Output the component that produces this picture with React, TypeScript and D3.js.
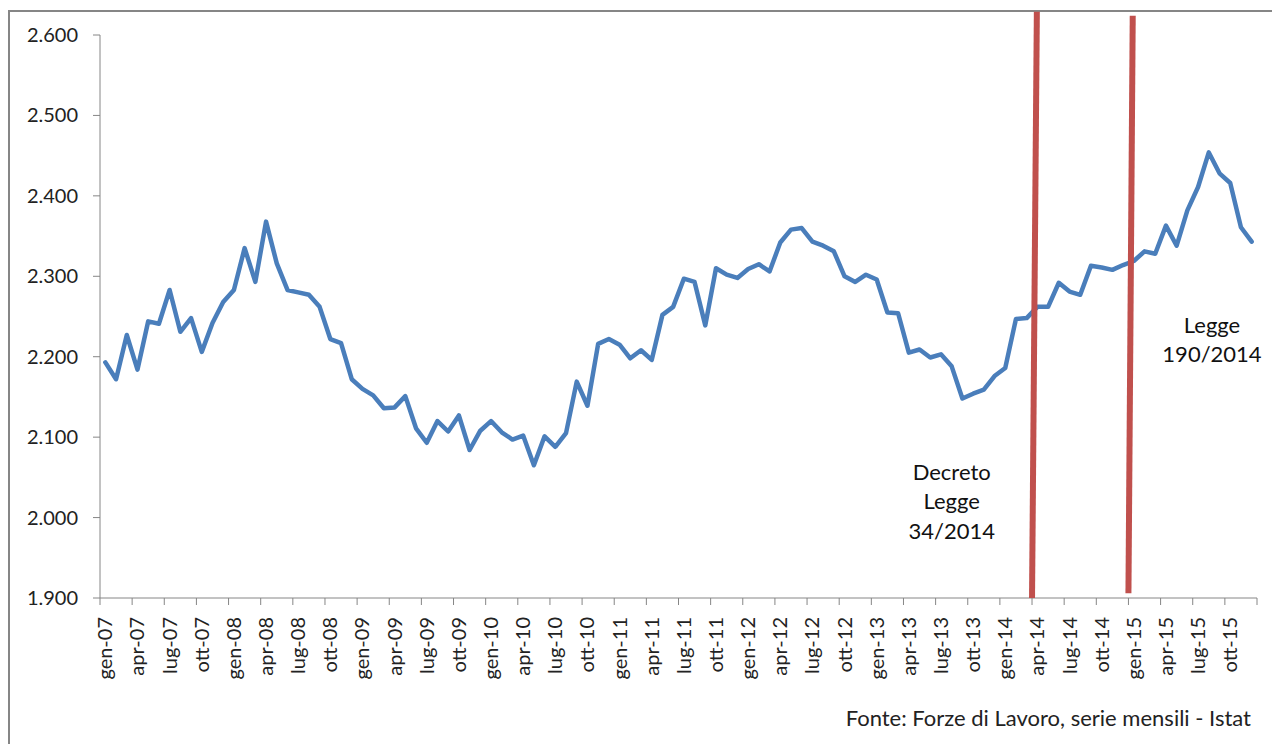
import React from 'react';
import * as d3 from 'd3';

// ── Data ──────────────────────────────────────────────────────────────────────
const MONTHS = ['gen', 'feb', 'mar', 'apr', 'mag', 'giu', 'lug', 'ago', 'set', 'ott', 'nov', 'dic'];
const YEARS = ['07', '08', '09', '10', '11', '12', '13', '14', '15'];
const CATEGORIES = YEARS.flatMap((y) => MONTHS.map((m) => `${m}-${y}`));

// migliaia, mensili gen-07 … dic-15
const VALUES = [
  2193, 2172, 2227, 2184, 2244, 2241, 2283, 2231, 2248, 2206, 2242, 2268,
  2283, 2335, 2293, 2368, 2316, 2283, 2280, 2277, 2262, 2222, 2217, 2172,
  2160, 2152, 2136, 2137, 2151, 2111, 2093, 2120, 2107, 2127, 2084, 2108,
  2120, 2106, 2097, 2102, 2065, 2101, 2088, 2105, 2169, 2139, 2216, 2222,
  2215, 2198, 2208, 2196, 2252, 2262, 2297, 2293, 2239, 2310, 2302, 2298,
  2309, 2315, 2306, 2342, 2358, 2360, 2343, 2338, 2331, 2300, 2293, 2302,
  2296, 2255, 2254, 2205, 2209, 2199, 2203, 2188, 2148, 2154, 2159, 2176,
  2186, 2247, 2248, 2262, 2262, 2292, 2281, 2277, 2313, 2311, 2308, 2314,
  2319, 2331, 2328, 2363, 2338, 2382, 2411, 2454, 2428, 2416, 2361, 2343,
];

const Y_TICKS = [1900, 2000, 2100, 2200, 2300, 2400, 2500, 2600];

// marker lines: month boundary (bottom/top) and value (bottom/top)
const MARKERS = [
  { from: 87, to: 87.45, v0: 1900, v1: 2629 },
  { from: 96, to: 96.4, v0: 1906, v1: 2624 },
];

const NOTES = [
  { lines: ['Decreto', 'Legge', '34/2014'], month: 79.5, value: 2047 },
  { lines: ['Legge', '190/2014'], month: 103.8, value: 2230 },
];

const SOURCE = 'Fonte: Forze di Lavoro, serie mensili - Istat';

// ── Layout ────────────────────────────────────────────────────────────────────
const W = 1272;
const H = 744;
const PLOT = { left: 100, right: 1257, top: 35, bottom: 598 };
const FONT = 'Lato, "Open Sans", sans-serif';
const AXIS_COLOR = '#868686';

export default function App() {
  const x = d3
    .scaleBand<string>()
    .domain(CATEGORIES)
    .range([PLOT.left, PLOT.right])
    .padding(0);
  const bw = x.bandwidth();
  // fractional month position -> pixel
  const xm = d3.scaleLinear().domain([0, CATEGORIES.length]).range([PLOT.left, PLOT.right]);
  const y = d3.scaleLinear().domain([1900, 2600]).range([PLOT.bottom, PLOT.top]);

  const line = d3
    .line<number>()
    .x((_, i) => (x(CATEGORIES[i]) ?? 0) + bw / 2)
    .y((d) => y(d));

  const tickIdx = d3.range(0, CATEGORIES.length + 1, 3);
  const fmt = (v: number) => d3.format(',.3f')(v / 1000).replace('.', ',').replace(',', '.');

  return (
    <div style={{ position: 'fixed', left: 0, top: 0, width: W, height: H, background: '#fff' }}>
      <svg width={W} height={H} style={{ display: 'block', fontFamily: FONT }}>
        <rect x={9} y={11} width={W + 20} height={H + 20} fill="#fff" stroke={AXIS_COLOR} strokeWidth={2} />

        {/* Y axis */}
        <line x1={PLOT.left} x2={PLOT.left} y1={PLOT.top} y2={PLOT.bottom} stroke={AXIS_COLOR} strokeWidth={1} />
        {Y_TICKS.map((t) => (
          <g key={t}>
            <line x1={PLOT.left - 7} x2={PLOT.left} y1={y(t)} y2={y(t)} stroke={AXIS_COLOR} />
            <text x={PLOT.left - 22} y={y(t)} dy="0.35em" textAnchor="end" fontSize={20} fill="#222">
              {fmt(t)}
            </text>
          </g>
        ))}

        {/* X axis */}
        <line x1={PLOT.left} x2={PLOT.right} y1={PLOT.bottom} y2={PLOT.bottom} stroke={AXIS_COLOR} />
        {tickIdx.map((i) => (
          <line key={i} x1={xm(i)} x2={xm(i)} y1={PLOT.bottom} y2={PLOT.bottom + 7} stroke={AXIS_COLOR} />
        ))}
        {tickIdx
          .filter((i) => i < CATEGORIES.length)
          .map((i) => {
            const cx = (x(CATEGORIES[i]) ?? 0) + bw / 2;
            return (
              <text
                key={i}
                transform={`translate(${cx + 7},${PLOT.bottom + 19}) rotate(-90)`}
                textAnchor="end"
                fontSize={20}
                fill="#222"
              >
                {CATEGORIES[i]}
              </text>
            );
          })}

        {/* Series */}
        <path d={line(VALUES) ?? ''} fill="none" stroke="#4a7ebb" strokeWidth={4.5} strokeLinejoin="round" strokeLinecap="round" />

        {/* Marker lines */}
        {MARKERS.map((m, i) => (
          <line key={i} x1={xm(m.from)} x2={xm(m.to)} y1={y(m.v0)} y2={y(m.v1)} stroke="#c0504d" strokeWidth={6} />
        ))}

        {/* Notes */}
        {NOTES.map((n, i) => (
          <text key={i} x={xm(n.month)} y={y(n.value)} textAnchor="middle" fontSize={22} fill="#111">
            {n.lines.map((l, j) => (
              <tspan key={j} x={xm(n.month)} dy={j === 0 ? 0 : 29.7}>
                {l}
              </tspan>
            ))}
          </text>
        ))}

        <text x={1251} y={726} textAnchor="end" fontSize={22} fill="#222">
          {SOURCE}
        </text>
      </svg>
    </div>
  );
}
